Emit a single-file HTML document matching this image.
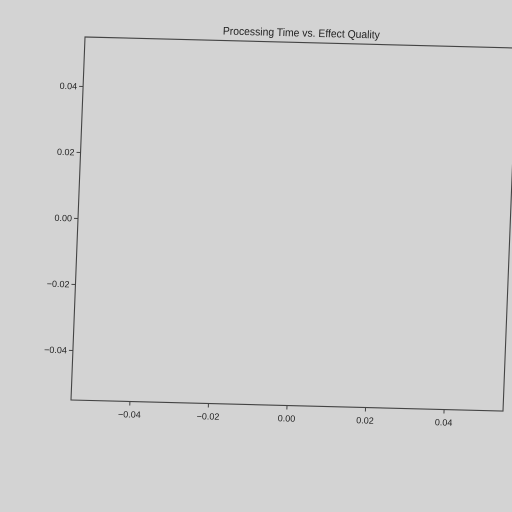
<!DOCTYPE html>
<html><head><meta charset="utf-8"><style>
html,body{margin:0;padding:0;background:#d3d3d3;}
svg{display:block;}
text{font-family:"Liberation Sans",sans-serif;fill:#222;}
</style></head><body>
<svg width="512" height="512">
<rect width="512" height="512" fill="#d3d3d3"/>
<g id="plot" transform="matrix(1,0.0255,-0.0386,1,71,400)">
<rect x="0" y="-363" width="432" height="363" fill="none" stroke="#444" stroke-width="1.1"/>
<text x="216" y="-369" text-anchor="middle" font-size="11" textLength="157" lengthAdjust="spacingAndGlyphs">Processing Time vs. Effect Quality</text>
</g>
</svg>
<script>
const xTicks=[-0.04,-0.02,0.00,0.02,0.04];
const yTicks=[-0.04,-0.02,0.00,0.02,0.04];
const xTickLabels=["−0.04","−0.02","0.00","0.02","0.04"];
const yTickLabels=["−0.04","−0.02","0.00","0.02","0.04"];
const xMin=-0.055,xMax=0.055,yMin=-0.055,yMax=0.055;
const W=432,H=363;
function xs(v){return (v-xMin)/(xMax-xMin)*W;}
function ys(v){return -(v-yMin)/(yMax-yMin)*H;}
const NS="http://www.w3.org/2000/svg";
const g=document.getElementById('plot');
xTicks.forEach((t,i)=>{
  const l=document.createElementNS(NS,'line');
  l.setAttribute('x1',xs(t));l.setAttribute('x2',xs(t));l.setAttribute('y1',0);l.setAttribute('y2',4);
  l.setAttribute('stroke','#444');
  
  
  g.appendChild(l);
  const tx=document.createElementNS(NS,'text');
  tx.setAttribute('x',xs(t));tx.setAttribute('y',16);tx.setAttribute('text-anchor','middle');tx.setAttribute('font-size','9');
  tx.textContent=xTickLabels[i];
  
  
  g.appendChild(tx);
});
yTicks.forEach((t,i)=>{
  const l=document.createElementNS(NS,'line');
  l.setAttribute('x1',-4);l.setAttribute('x2',0);l.setAttribute('y1',ys(t));l.setAttribute('y2',ys(t));
  l.setAttribute('stroke','#444');
  
  
  g.appendChild(l);
  const tx=document.createElementNS(NS,'text');
  tx.setAttribute('x',-6);tx.setAttribute('y',ys(t)+3);tx.setAttribute('text-anchor','end');tx.setAttribute('font-size','9');
  tx.textContent=yTickLabels[i];
  
  
  g.appendChild(tx);
});
</script>
</body></html>
